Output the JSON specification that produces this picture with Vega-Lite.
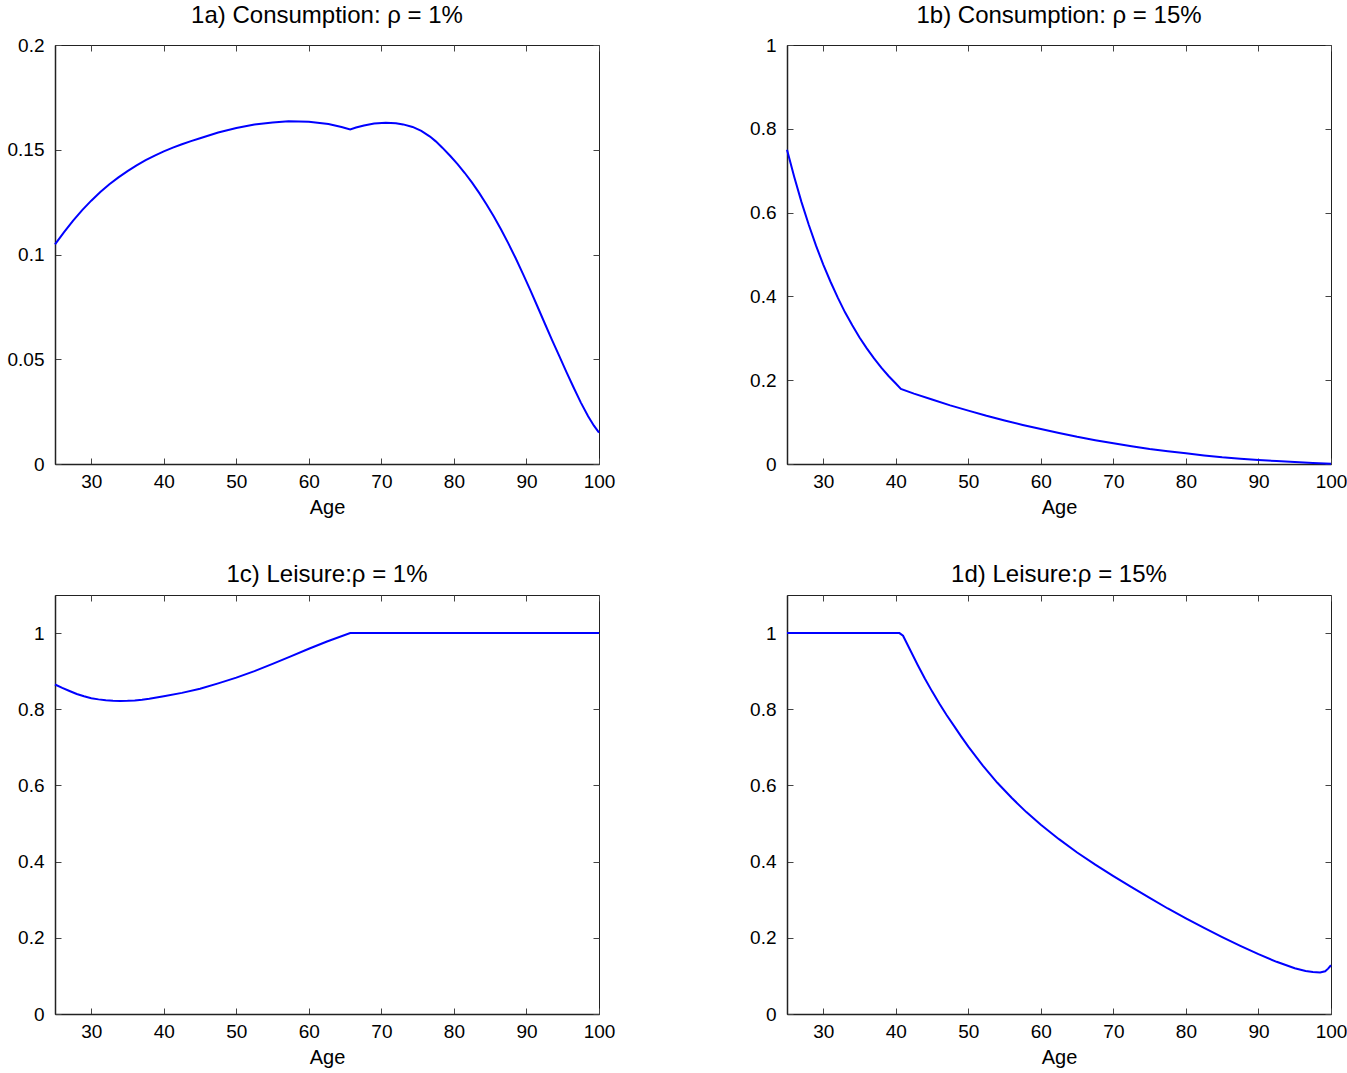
{
  "$schema": "https://vega.github.io/schema/vega-lite/v6.json",
  "background": "white",
  "padding": {"left": 6, "top": 3, "right": 2, "bottom": 5},
  "config": {
    "font": "Liberation Sans",
    "view": {"stroke": "#222", "strokeWidth": 1},
    "axis": {
      "labelFont": "Liberation Sans", "labelFontSize": 19, "labelColor": "#000",
      "titleFont": "Liberation Sans", "titleFontSize": 20, "titleFontWeight": "normal", "titleColor": "#000",
      "grid": false, "domainColor": "#222", "domainWidth": 1.5, "tickColor": "#444", "tickWidth": 1,
      "tickSize": -6, "labelFlush": false, "labelOverlap": false
    },
    "title": {"font": "Liberation Sans", "fontSize": 24, "fontWeight": "normal", "color": "#000", "offset": 8}
  },
  "datasets": {
    "a": [
      {"age": 25, "value": 0.1048}, {"age": 26.25, "value": 0.1107}, {"age": 27.5, "value": 0.1162}, {"age": 28.75, "value": 0.1212},
      {"age": 30, "value": 0.1257}, {"age": 31.25, "value": 0.1298}, {"age": 32.5, "value": 0.1335}, {"age": 33.75, "value": 0.1368},
      {"age": 35, "value": 0.1398}, {"age": 36.25, "value": 0.1425}, {"age": 37.5, "value": 0.1450}, {"age": 38.75, "value": 0.1472},
      {"age": 40, "value": 0.1492}, {"age": 41.25, "value": 0.1510}, {"age": 42.5, "value": 0.1526}, {"age": 43.75, "value": 0.1541},
      {"age": 45, "value": 0.1555}, {"age": 47.5, "value": 0.1582}, {"age": 50, "value": 0.1604}, {"age": 52.5, "value": 0.1620},
      {"age": 55, "value": 0.1630}, {"age": 57.2, "value": 0.1636}, {"age": 60, "value": 0.1634}, {"age": 62.7, "value": 0.1623},
      {"age": 64.5, "value": 0.1609}, {"age": 65.7, "value": 0.1597}, {"age": 66.5, "value": 0.1606}, {"age": 67.6, "value": 0.1616},
      {"age": 69, "value": 0.1625}, {"age": 70.6, "value": 0.1629}, {"age": 72, "value": 0.1627}, {"age": 73, "value": 0.1621},
      {"age": 74.3, "value": 0.1609}, {"age": 75.5, "value": 0.1590}, {"age": 76.7, "value": 0.1563}, {"age": 77.5, "value": 0.1540},
      {"age": 78.4, "value": 0.1510}, {"age": 79.5, "value": 0.1470}, {"age": 80.5, "value": 0.1431}, {"age": 81.5, "value": 0.1389},
      {"age": 82.5, "value": 0.1343}, {"age": 83.5, "value": 0.1293}, {"age": 84.5, "value": 0.1239}, {"age": 85.5, "value": 0.1181},
      {"age": 86.5, "value": 0.1119}, {"age": 87.5, "value": 0.1053}, {"age": 88.5, "value": 0.0983}, {"age": 89.5, "value": 0.0909},
      {"age": 90.5, "value": 0.0832}, {"age": 91.5, "value": 0.0753}, {"age": 92.5, "value": 0.0673}, {"age": 93.5, "value": 0.0594},
      {"age": 94.5, "value": 0.0517}, {"age": 95.5, "value": 0.0440}, {"age": 96.5, "value": 0.0365}, {"age": 97.5, "value": 0.0293},
      {"age": 98.5, "value": 0.0228}, {"age": 99.3, "value": 0.0183}, {"age": 100, "value": 0.0150}
    ],
    "b": [
      {"age": 25, "value": 0.750}, {"age": 26, "value": 0.685}, {"age": 27, "value": 0.625}, {"age": 28, "value": 0.571},
      {"age": 29, "value": 0.521}, {"age": 30, "value": 0.476}, {"age": 31, "value": 0.435}, {"age": 32, "value": 0.397},
      {"age": 33, "value": 0.362}, {"age": 34, "value": 0.331}, {"age": 35, "value": 0.302}, {"age": 36, "value": 0.276},
      {"age": 37, "value": 0.252}, {"age": 38, "value": 0.230}, {"age": 39, "value": 0.210}, {"age": 40, "value": 0.192},
      {"age": 40.7, "value": 0.179}, {"age": 42.5, "value": 0.168}, {"age": 45, "value": 0.154}, {"age": 47.5, "value": 0.140},
      {"age": 50, "value": 0.1273}, {"age": 52.5, "value": 0.1150}, {"age": 55, "value": 0.1038}, {"age": 57.5, "value": 0.0933},
      {"age": 60, "value": 0.0836}, {"age": 62.5, "value": 0.0742}, {"age": 65, "value": 0.0650}, {"age": 67.5, "value": 0.0568},
      {"age": 70, "value": 0.0495}, {"age": 72.5, "value": 0.0425}, {"age": 75, "value": 0.0360}, {"age": 77.5, "value": 0.0305},
      {"age": 80, "value": 0.0255}, {"age": 82.5, "value": 0.0205}, {"age": 85, "value": 0.0160}, {"age": 87.5, "value": 0.0125},
      {"age": 90, "value": 0.0095}, {"age": 92.5, "value": 0.0070}, {"age": 95, "value": 0.0048}, {"age": 97.5, "value": 0.0025},
      {"age": 100, "value": 0.0008}
    ],
    "c": [
      {"age": 25, "value": 0.865}, {"age": 26, "value": 0.856}, {"age": 27, "value": 0.848}, {"age": 28, "value": 0.840},
      {"age": 29, "value": 0.834}, {"age": 30, "value": 0.829}, {"age": 31, "value": 0.826}, {"age": 32, "value": 0.8235},
      {"age": 33, "value": 0.8225}, {"age": 34, "value": 0.822}, {"age": 35, "value": 0.8222}, {"age": 36, "value": 0.8232},
      {"age": 37, "value": 0.825}, {"age": 38, "value": 0.8275}, {"age": 40, "value": 0.834}, {"age": 42.5, "value": 0.843},
      {"age": 45, "value": 0.854}, {"age": 47.5, "value": 0.868}, {"age": 50, "value": 0.883}, {"age": 52.5, "value": 0.900},
      {"age": 55, "value": 0.919}, {"age": 57.5, "value": 0.939}, {"age": 60, "value": 0.959}, {"age": 62.5, "value": 0.978},
      {"age": 65.7, "value": 1.0}, {"age": 75, "value": 1.0}, {"age": 85, "value": 1.0}, {"age": 100, "value": 1.0}
    ],
    "d": [
      {"age": 25, "value": 1.0}, {"age": 30, "value": 1.0}, {"age": 35, "value": 1.0}, {"age": 40.5, "value": 1.0},
      {"age": 41, "value": 0.993}, {"age": 42, "value": 0.955}, {"age": 43, "value": 0.917}, {"age": 44, "value": 0.881},
      {"age": 45, "value": 0.847}, {"age": 46, "value": 0.815}, {"age": 47, "value": 0.785}, {"age": 48, "value": 0.757},
      {"age": 49, "value": 0.729}, {"age": 50, "value": 0.702}, {"age": 52, "value": 0.652}, {"age": 54, "value": 0.607},
      {"age": 56, "value": 0.567}, {"age": 58, "value": 0.530}, {"age": 60, "value": 0.497}, {"age": 62.5, "value": 0.459},
      {"age": 65, "value": 0.424}, {"age": 67.5, "value": 0.392}, {"age": 70, "value": 0.362}, {"age": 72.5, "value": 0.333},
      {"age": 75, "value": 0.305}, {"age": 77.5, "value": 0.277}, {"age": 80, "value": 0.251}, {"age": 82.5, "value": 0.226},
      {"age": 85, "value": 0.202}, {"age": 87.5, "value": 0.179}, {"age": 90, "value": 0.157}, {"age": 92.5, "value": 0.137},
      {"age": 95, "value": 0.120}, {"age": 96.5, "value": 0.113}, {"age": 97.5, "value": 0.110}, {"age": 98.5, "value": 0.109},
      {"age": 99.2, "value": 0.112}, {"age": 99.6, "value": 0.119}, {"age": 100, "value": 0.128}
    ]
  },
  "columns": 2,
  "spacing": {"row": 44, "column": 133},
  "concat": [
    {
      "width": 544, "height": 419,
      "title": "1a) Consumption: ρ = 1%",
      "data": {"name": "a"},
      "resolve": {"axis": {"x": "independent", "y": "independent"}},
      "layer": [
        {
          "mark": {"type": "line", "color": "#0000FF", "strokeWidth": 2},
          "encoding": {
            "x": {"field": "age", "type": "quantitative", "scale": {"domain": [25, 100], "nice": false, "zero": false},
                  "axis": {"title": "Age", "values": [30, 40, 50, 60, 70, 80, 90, 100], "labelPadding": 14, "titlePadding": 6}},
            "y": {"field": "value", "type": "quantitative", "scale": {"domain": [0, 0.2], "nice": false},
                  "axis": {"title": null, "values": [0, 0.05, 0.1, 0.15, 0.2], "format": "~g", "labelPadding": 17}}
          }
        },
        {
          "mark": {"type": "line", "opacity": 0},
          "encoding": {
            "x": {"field": "age", "type": "quantitative", "axis": {"orient": "top", "labels": false, "title": null, "domain": false, "values": [30, 40, 50, 60, 70, 80, 90, 100]}},
            "y": {"field": "value", "type": "quantitative", "axis": {"orient": "right", "labels": false, "title": null, "domain": false, "values": [0, 0.05, 0.1, 0.15, 0.2]}}
          }
        }
      ]
    },
    {
      "width": 544, "height": 419,
      "title": "1b) Consumption: ρ = 15%",
      "data": {"name": "b"},
      "resolve": {"axis": {"x": "independent", "y": "independent"}},
      "layer": [
        {
          "mark": {"type": "line", "color": "#0000FF", "strokeWidth": 2},
          "encoding": {
            "x": {"field": "age", "type": "quantitative", "scale": {"domain": [25, 100], "nice": false, "zero": false},
                  "axis": {"title": "Age", "values": [30, 40, 50, 60, 70, 80, 90, 100], "labelPadding": 14, "titlePadding": 6}},
            "y": {"field": "value", "type": "quantitative", "scale": {"domain": [0, 1], "nice": false},
                  "axis": {"title": null, "values": [0, 0.2, 0.4, 0.6, 0.8, 1], "format": "~g", "labelPadding": 17}}
          }
        },
        {
          "mark": {"type": "line", "opacity": 0},
          "encoding": {
            "x": {"field": "age", "type": "quantitative", "axis": {"orient": "top", "labels": false, "title": null, "domain": false, "values": [30, 40, 50, 60, 70, 80, 90, 100]}},
            "y": {"field": "value", "type": "quantitative", "axis": {"orient": "right", "labels": false, "title": null, "domain": false, "values": [0, 0.2, 0.4, 0.6, 0.8, 1]}}
          }
        }
      ]
    },
    {
      "width": 544, "height": 419,
      "title": "1c) Leisure:ρ = 1%",
      "data": {"name": "c"},
      "resolve": {"axis": {"x": "independent", "y": "independent"}},
      "layer": [
        {
          "mark": {"type": "line", "color": "#0000FF", "strokeWidth": 2},
          "encoding": {
            "x": {"field": "age", "type": "quantitative", "scale": {"domain": [25, 100], "nice": false, "zero": false},
                  "axis": {"title": "Age", "values": [30, 40, 50, 60, 70, 80, 90, 100], "labelPadding": 14, "titlePadding": 6}},
            "y": {"field": "value", "type": "quantitative", "scale": {"domain": [0, 1.1], "nice": false},
                  "axis": {"title": null, "values": [0, 0.2, 0.4, 0.6, 0.8, 1], "format": "~g", "labelPadding": 17}}
          }
        },
        {
          "mark": {"type": "line", "opacity": 0},
          "encoding": {
            "x": {"field": "age", "type": "quantitative", "axis": {"orient": "top", "labels": false, "title": null, "domain": false, "values": [30, 40, 50, 60, 70, 80, 90, 100]}},
            "y": {"field": "value", "type": "quantitative", "axis": {"orient": "right", "labels": false, "title": null, "domain": false, "values": [0, 0.2, 0.4, 0.6, 0.8, 1]}}
          }
        }
      ]
    },
    {
      "width": 544, "height": 419,
      "title": "1d) Leisure:ρ = 15%",
      "data": {"name": "d"},
      "resolve": {"axis": {"x": "independent", "y": "independent"}},
      "layer": [
        {
          "mark": {"type": "line", "color": "#0000FF", "strokeWidth": 2},
          "encoding": {
            "x": {"field": "age", "type": "quantitative", "scale": {"domain": [25, 100], "nice": false, "zero": false},
                  "axis": {"title": "Age", "values": [30, 40, 50, 60, 70, 80, 90, 100], "labelPadding": 14, "titlePadding": 6}},
            "y": {"field": "value", "type": "quantitative", "scale": {"domain": [0, 1.1], "nice": false},
                  "axis": {"title": null, "values": [0, 0.2, 0.4, 0.6, 0.8, 1], "format": "~g", "labelPadding": 17}}
          }
        },
        {
          "mark": {"type": "line", "opacity": 0},
          "encoding": {
            "x": {"field": "age", "type": "quantitative", "axis": {"orient": "top", "labels": false, "title": null, "domain": false, "values": [30, 40, 50, 60, 70, 80, 90, 100]}},
            "y": {"field": "value", "type": "quantitative", "axis": {"orient": "right", "labels": false, "title": null, "domain": false, "values": [0, 0.2, 0.4, 0.6, 0.8, 1]}}
          }
        }
      ]
    }
  ]
}
